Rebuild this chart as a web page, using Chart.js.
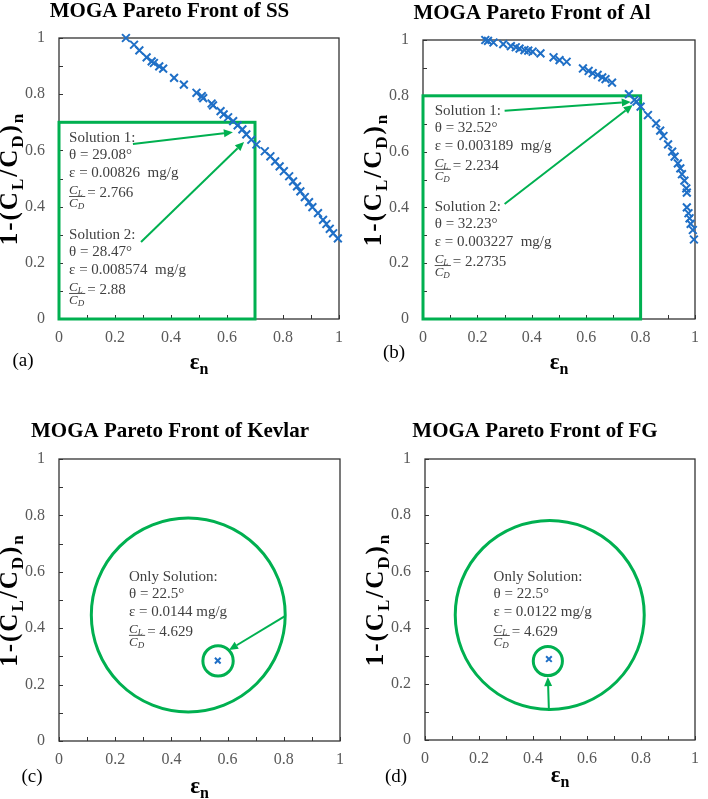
<!DOCTYPE html>
<html>
<head>
<meta charset="utf-8">
<script src="https://cdn.jsdelivr.net/npm/chart.js@4.4.1/dist/chart.umd.min.js"></script>
<style>
  body { margin: 0; background: #fff; }
  #wrap { position: relative; width: 708px; height: 799px; }
  canvas { position: absolute; }
</style>
</head>
<body>
<div id="wrap">
  <canvas id="chartA" width="354" height="390" style="left:0;top:0"></canvas>
  <canvas id="chartB" width="354" height="390" style="left:354px;top:0"></canvas>
  <canvas id="chartC" width="354" height="409" style="left:0;top:390px"></canvas>
  <canvas id="chartD" width="354" height="409" style="left:354px;top:390px"></canvas>
</div>
<script>
/* ---- data ---- */
const ssX = [0.239, 0.268, 0.287, 0.313, 0.331, 0.339, 0.358, 0.372, 0.411, 0.446, 0.491, 0.510, 0.515, 0.545, 0.550,
             0.577, 0.588, 0.604, 0.622, 0.638, 0.655, 0.669, 0.687, 0.705, 0.735, 0.755, 0.772, 0.788, 0.803, 0.822,
             0.836, 0.850, 0.862, 0.878, 0.893, 0.905, 0.925, 0.943, 0.955, 0.967, 0.979, 0.996];
const ssY = [1.000, 0.976, 0.956, 0.931, 0.917, 0.911, 0.899, 0.891, 0.858, 0.834, 0.805, 0.793, 0.786, 0.767, 0.760,
             0.740, 0.728, 0.718, 0.704, 0.689, 0.675, 0.657, 0.638, 0.621, 0.597, 0.579, 0.561, 0.543, 0.526, 0.508,
             0.490, 0.472, 0.454, 0.434, 0.416, 0.398, 0.377, 0.353, 0.338, 0.321, 0.305, 0.287];

const alX = [0.229, 0.239, 0.259, 0.295, 0.323, 0.341, 0.355, 0.373, 0.387, 0.403, 0.432, 0.480, 0.502, 0.528, 0.588,
             0.609, 0.624, 0.642, 0.659, 0.671, 0.695, 0.757, 0.777, 0.785, 0.800, 0.827, 0.857, 0.872, 0.884, 0.901,
             0.916, 0.925, 0.937, 0.946, 0.952, 0.961, 0.968, 0.970, 0.970, 0.976, 0.980, 0.984, 0.992, 0.996];
const alY = [1.000, 0.997, 0.991, 0.985, 0.978, 0.974, 0.969, 0.964, 0.962, 0.958, 0.952, 0.938, 0.928, 0.922, 0.898,
             0.889, 0.881, 0.875, 0.866, 0.860, 0.847, 0.806, 0.785, 0.779, 0.761, 0.731, 0.701, 0.675, 0.656, 0.626,
             0.600, 0.582, 0.558, 0.540, 0.519, 0.496, 0.468, 0.453, 0.400, 0.379, 0.361, 0.341, 0.319, 0.285];

const kevlarX = [0.565];
const kevlarY = [0.285];
const fgX = [0.459];
const fgY = [0.288];

// axis: 0..1, tick marks every 0.1, labels every 0.2
const axisMin = 0, axisMax = 1, tickStep = 0.1;

/* ---- styling ---- */
const serif = "'Liberation Serif', 'Times New Roman', serif";
const green = '#00b050';
const blue = '#1f6fc6';
const textGray = '#404040';
const titleSize = 21;

function toPoints(xs, ys) {
  return xs.map((x, i) => ({ x: x, y: ys[i] }));
}

function drawArrow(ctx, x1, y1, x2, y2) {
  const ang = Math.atan2(y2 - y1, x2 - x1);
  const head = 9, half = 4;
  const bx = x2 - head * Math.cos(ang), by = y2 - head * Math.sin(ang);
  ctx.beginPath();
  ctx.moveTo(x1, y1);
  ctx.lineTo(bx, by);
  ctx.stroke();
  ctx.beginPath();
  ctx.moveTo(x2, y2);
  ctx.lineTo(bx + half * Math.sin(ang), by - half * Math.cos(ang));
  ctx.lineTo(bx - half * Math.sin(ang), by + half * Math.cos(ang));
  ctx.closePath();
  ctx.fill();
}

// parts: [text, isSub]
function drawRich(ctx, parts, cx, cy, size, spacing) {
  const big = `bold ${size}px ${serif}`, small = `bold ${Math.round(size * 0.68)}px ${serif}`;
  ctx.letterSpacing = spacing + 'px';
  let w = 0;
  parts.forEach(p => { ctx.font = p[1] ? small : big; w += ctx.measureText(p[0]).width; });
  let x = cx - w / 2;
  ctx.textAlign = 'left';
  ctx.textBaseline = 'middle';
  parts.forEach(p => {
    ctx.font = p[1] ? small : big;
    ctx.fillText(p[0], x, p[1] ? cy + size * 0.3 : cy);
    x += ctx.measureText(p[0]).width;
  });
  ctx.letterSpacing = '0px';
}

function drawRatio(ctx, x, cy, value) {
  ctx.textAlign = 'left';
  ctx.textBaseline = 'alphabetic';
  ctx.font = `italic 13px ${serif}`;
  const cW = ctx.measureText('C').width;
  ctx.font = `italic 9px ${serif}`;
  const w = cW + Math.max(ctx.measureText('L').width, ctx.measureText('D').width) + 1;
  ctx.font = `italic 13px ${serif}`;
  ctx.fillText('C', x, cy);
  ctx.fillText('C', x, cy + 13);
  ctx.font = `italic 9px ${serif}`;
  ctx.fillText('L', x + cW, cy + 2);
  ctx.fillText('D', x + cW, cy + 15);
  ctx.fillRect(x, cy + 2, w, 0.9);
  ctx.font = `15px ${serif}`;
  ctx.textBaseline = 'middle';
  ctx.fillText('= ' + value, x + w + 2, cy - 1);
}

const annotate = {
  id: 'annotate',
  beforeDatasetsDraw(chart, args, opts) {
    const { ctx, chartArea: a, scales: { x, y } } = chart;
    ctx.save();
    // frame
    ctx.strokeStyle = '#333';
    ctx.lineWidth = 1.3;
    ctx.strokeRect(a.left, a.top, a.right - a.left, a.bottom - a.top);
    // inward tick marks
    ctx.lineWidth = 1;
    ctx.beginPath();
    x.ticks.forEach(t => {
      const px = Math.round(x.getPixelForValue(t.value)) + 0.5;
      ctx.moveTo(px, a.bottom); ctx.lineTo(px, a.bottom - 4);
    });
    y.ticks.forEach(t => {
      const py = Math.round(y.getPixelForValue(t.value)) + 0.5;
      ctx.moveTo(a.left, py); ctx.lineTo(a.left + 4, py);
    });
    ctx.stroke();

    // green frames, circles and arrows
    ctx.strokeStyle = green;
    ctx.fillStyle = green;
    ctx.lineWidth = 3;
    (opts.rects || []).forEach(r => {
      const x0 = x.getPixelForValue(r[0]), y0 = y.getPixelForValue(r[1]);
      const x1 = x.getPixelForValue(r[2]), y1 = y.getPixelForValue(r[3]);
      ctx.strokeRect(x0, y1, x1 - x0, y0 - y1);
    });
    (opts.circles || []).forEach(c => {
      const cx = x.getPixelForValue(c[0]), cy = y.getPixelForValue(c[1]);
      const r = x.getPixelForValue(c[0] + c[2]) - cx;
      ctx.beginPath();
      ctx.arc(cx, cy, r, 0, Math.PI * 2);
      ctx.stroke();
    });
    ctx.lineWidth = 2;
    (opts.arrows || []).forEach(r => {
      drawArrow(ctx, x.getPixelForValue(r[0]), y.getPixelForValue(r[1]),
                x.getPixelForValue(r[2]), y.getPixelForValue(r[3]));
    });

    // text blocks
    const steps = [0, 17, 35, 56];
    ctx.fillStyle = textGray;
    (opts.blocks || []).forEach(b => {
      const bx = x.getPixelForValue(b.x), by = y.getPixelForValue(b.y);
      ctx.font = `15px ${serif}`;
      ctx.textAlign = 'left';
      ctx.textBaseline = 'middle';
      b.lines.forEach((line, i) => ctx.fillText(line, bx, by + steps[i]));
      drawRatio(ctx, bx, by + steps[3], b.ratio);
    });
    ctx.restore();
  },
  afterDraw(chart, args, opts) {
    const { ctx, chartArea: a } = chart;
    ctx.save();
    ctx.fillStyle = '#000';
    // y title
    ctx.translate(a.left - 48, (a.top + a.bottom) / 2);
    ctx.rotate(-Math.PI / 2);
    drawRich(ctx, [['1-(C', false], ['L', true], ['/C', false], ['D', true], [')', false], ['n', true]], 0, 0, 25, 2);
    ctx.setTransform(1, 0, 0, 1, 0, 0);
    // x title
    drawRich(ctx, [['\u03b5', false], ['n', true]], (a.left + a.right) / 2, a.bottom + opts.xTitleDy, 23, 0);
    // panel letter
    ctx.font = `19px ${serif}`;
    ctx.textAlign = 'center';
    ctx.textBaseline = 'middle';
    ctx.fillText(opts.letter, a.left + opts.letterPos[0], a.bottom + opts.letterPos[1]);
    ctx.restore();
  }
};

function makePanel(id, title, xs, ys, pointRadius, lay, notes) {
  const half = titleSize * 0.6;
  new Chart(document.getElementById(id), {
    type: 'scatter',
    data: {
      datasets: [{
        data: toPoints(xs, ys),
        pointStyle: 'crossRot',
        pointRadius: pointRadius,
        borderColor: blue,
        backgroundColor: blue,
        borderWidth: 2,
        clip: false
      }]
    },
    options: {
      responsive: false,
      animation: false,
      devicePixelRatio: 1,
      layout: { padding: { left: lay.padLeft, right: lay.width - lay.right, top: 0, bottom: 0 } },
      plugins: {
        legend: { display: false },
        tooltip: { enabled: false },
        title: {
          display: true,
          text: title,
          color: '#000',
          font: { family: serif, size: titleSize, weight: 'bold', lineHeight: 1.2 },
          padding: { top: lay.titleY - half, bottom: lay.top - lay.titleY - half }
        },
        annotate: notes
      },
      scales: {
        x: {
          type: 'linear',
          min: axisMin, max: axisMax,
          grid: { display: false, drawTicks: false },
          border: { display: false },
          afterFit: s => { s.height = lay.height - lay.bottom; },
          ticks: {
            stepSize: tickStep, autoSkip: false, maxRotation: 0, padding: 9,
            color: '#595959', font: { family: serif, size: 16 },
            callback: v => (Math.round(v * 10) % 2 === 0 ? String(Math.round(v * 10) / 10) : '')
          }
        },
        y: {
          type: 'linear',
          min: axisMin, max: axisMax,
          grid: { display: false, drawTicks: false },
          border: { display: false },
          afterFit: s => { s.width = lay.left - lay.padLeft; },
          ticks: {
            stepSize: tickStep, autoSkip: false, padding: 14,
            color: '#595959', font: { family: serif, size: 16 },
            callback: v => (Math.round(v * 10) % 2 === 0 ? String(Math.round(v * 10) / 10) : '')
          }
        }
      }
    },
    plugins: [annotate]
  });
}

makePanel('chartA', 'MOGA Pareto Front of SS', ssX, ssY, 5.5,
  { width: 354, height: 390, padLeft: 0, left: 59, right: 339, top: 38, bottom: 319, titleY: 12 },
  {
    rects: [[0, 0, 0.7, 0.7]],
    arrows: [[0.264, 0.623, 0.621, 0.665], [0.293, 0.274, 0.661, 0.630]],
    blocks: [
      { x: 0.036, y: 0.644, lines: ['Solution 1:', '\u03b8 = 29.08\u00b0', '\u03b5 = 0.00826  mg/g'], ratio: '2.766' },
      { x: 0.036, y: 0.299, lines: ['Solution 2:', '\u03b8 = 28.47\u00b0', '\u03b5 = 0.008574  mg/g'], ratio: '2.88' }
    ],
    xTitleDy: 44, letter: '(a)', letterPos: [-36, 42]
  });

makePanel('chartB', 'MOGA Pareto Front of Al', alX, alY, 5.5,
  { width: 354, height: 390, padLeft: 8, left: 69, right: 348, top: 40, bottom: 319, titleY: 14 },
  {
    rects: [[0, 0, 0.8, 0.8]],
    arrows: [[0.30, 0.746, 0.764, 0.778], [0.30, 0.412, 0.771, 0.767]],
    blocks: [
      { x: 0.043, y: 0.746, lines: ['Solution 1:', '\u03b8 = 32.52\u00b0', '\u03b5 = 0.003189  mg/g'], ratio: '2.234' },
      { x: 0.043, y: 0.401, lines: ['Solution 2:', '\u03b8 = 32.23\u00b0', '\u03b5 = 0.003227  mg/g'], ratio: '2.2735' }
    ],
    xTitleDy: 44, letter: '(b)', letterPos: [-29, 34]
  });

makePanel('chartC', 'MOGA Pareto Front of Kevlar', kevlarX, kevlarY, 4,
  { width: 354, height: 409, padLeft: 0, left: 59, right: 340, top: 69, bottom: 351, titleY: 42 },
  {
    circles: [[0.46, 0.447, 0.345], [0.566, 0.284, 0.054]],
    arrows: [[0.804, 0.443, 0.605, 0.323]],
    blocks: [
      { x: 0.249, y: 0.582, lines: ['Only Solution:', '\u03b8 = 22.5\u00b0', '\u03b5 = 0.0144 mg/g'], ratio: '4.629' }
    ],
    xTitleDy: 46, letter: '(c)', letterPos: [-27, 36]
  });

makePanel('chartD', 'MOGA Pareto Front of FG', fgX, fgY, 4,
  { width: 354, height: 409, padLeft: 12, left: 71, right: 350, top: 69, bottom: 350, titleY: 42 },
  {
    circles: [[0.462, 0.445, 0.35], [0.455, 0.281, 0.054]],
    arrows: [[0.459, 0.103, 0.455, 0.224]],
    blocks: [
      { x: 0.254, y: 0.580, lines: ['Only Solution:', '\u03b8 = 22.5\u00b0', '\u03b5 = 0.0122 mg/g'], ratio: '4.629' }
    ],
    xTitleDy: 36, letter: '(d)', letterPos: [-29, 37]
  });
</script>
</body>
</html>
